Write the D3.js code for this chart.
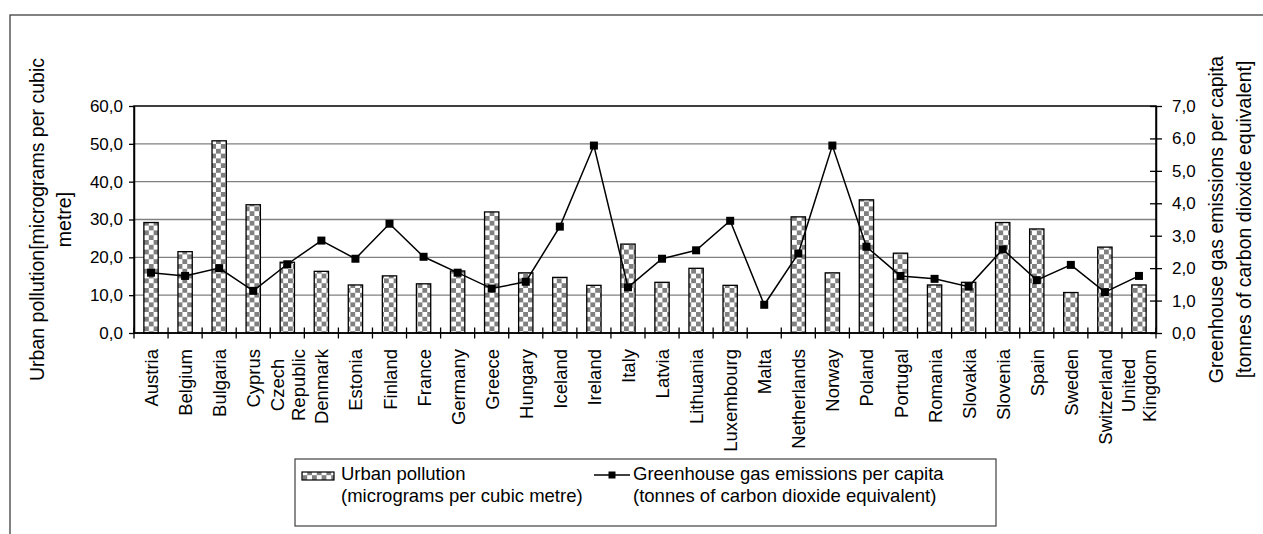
<!DOCTYPE html>
<html>
<head>
<meta charset="utf-8">
<script src="https://cdn.jsdelivr.net/npm/d3@7"></script>
<style>
  body { margin: 0; background: #fff; }
  svg { display: block; }
  text { font-family: "Liberation Sans", Arial, sans-serif; fill: #000; }
</style>
</head>
<body>
<svg id="chart" width="1263" height="534"></svg>
<script>
// Countries (a "\n" splits a label over two lines)
const countries = [
  "Austria", "Belgium", "Bulgaria", "Cyprus", "Czech\nRepublic", "Denmark",
  "Estonia", "Finland", "France", "Germany", "Greece", "Hungary", "Iceland",
  "Ireland", "Italy", "Latvia", "Lithuania", "Luxembourg", "Malta",
  "Netherlands", "Norway", "Poland", "Portugal", "Romania", "Slovakia",
  "Slovenia", "Spain", "Sweden", "Switzerland", "United\nKingdom"
];

// Urban pollution, micrograms per cubic metre (no value for Malta)
const urbanPollution = [
  29.2, 21.5, 50.8, 33.9, 18.7, 16.3,
  12.7, 15.1, 13.0, 16.4, 32.0, 15.9, 14.7,
  12.6, 23.5, 13.4, 17.1, 12.6, null,
  30.7, 15.9, 35.2, 21.1, 12.7, 13.4,
  29.2, 27.5, 10.7, 22.7, 12.7
];

// Greenhouse gas emissions per capita, tonnes of CO2 equivalent
const ghgPerCapita = [
  1.86, 1.76, 2.00, 1.30, 2.12, 2.85,
  2.29, 3.37, 2.35, 1.86, 1.37, 1.58, 3.28,
  5.78, 1.41, 2.29, 2.55, 3.46, 0.87,
  2.45, 5.78, 2.66, 1.76, 1.67, 1.43,
  2.58, 1.63, 2.10, 1.26, 1.76
];

const leftTicks = [0, 10, 20, 30, 40, 50, 60];
const rightTicks = [0, 1, 2, 3, 4, 5, 6, 7];

const leftTitle = ["Urban pollution[micrograms per cubic", "metre]"];
const rightTitle = ["Greenhouse gas emissions per capita", "[tonnes of carbon dioxide equivalent]"];
const legendBarText = ["Urban pollution", "(micrograms per cubic metre)"];
const legendLineText = ["Greenhouse gas emissions per capita", "(tonnes of carbon dioxide equivalent)"];

// ---- layout ----
const plot = { left: 134, right: 1156, top: 106, bottom: 333 };
const svg = d3.select("#chart");

const x = d3.scaleBand().domain(d3.range(countries.length))
  .range([plot.left, plot.right]).padding(0);
const yLeft = d3.scaleLinear().domain([0, 60]).range([plot.bottom, plot.top]);
const yRight = d3.scaleLinear().domain([0, 7]).range([plot.bottom, plot.top]);

const comma = d3.formatLocale({ decimal: ",", thousands: ".", grouping: [3], currency: ["", ""] }).format(".1f");

// checkerboard fill used by the bars
const cell = 4.8;
const defs = svg.append("defs");
const pat = defs.append("pattern").attr("id", "checker")
  .attr("patternUnits", "userSpaceOnUse")
  .attr("width", cell * 2).attr("height", cell * 2);
pat.append("rect").attr("width", cell * 2).attr("height", cell * 2).attr("fill", "#fff");
pat.append("rect").attr("width", cell).attr("height", cell).attr("fill", "#808080");
pat.append("rect").attr("x", cell).attr("y", cell).attr("width", cell).attr("height", cell).attr("fill", "#808080");

// outer frame (runs off the right and bottom edges)
svg.append("rect").attr("x", 10).attr("y", 15).attr("width", 1280).attr("height", 560)
  .attr("fill", "none").attr("stroke", "#404040").attr("stroke-width", 1.3);

// gridlines
svg.append("g").selectAll("line").data(leftTicks.filter(d => d > 0 && d < 60)).join("line")
  .attr("x1", plot.left).attr("x2", plot.right)
  .attr("y1", d => yLeft(d)).attr("y2", d => yLeft(d))
  .attr("stroke", "#808080").attr("stroke-width", 1.3);

// bars
const bw = x.bandwidth() * 0.42;
svg.append("g").selectAll("rect")
  .data(urbanPollution.map((v, i) => ({ v, i })).filter(d => d.v != null))
  .join("rect")
  .attr("x", d => x(d.i) + (x.bandwidth() - bw) / 2)
  .attr("width", bw)
  .attr("y", d => yLeft(d.v))
  .attr("height", d => yLeft(0) - yLeft(d.v))
  .attr("fill", "url(#checker)")
  .attr("stroke", "#000").attr("stroke-width", 1.3);

// plot border
svg.append("rect").attr("x", plot.left).attr("y", plot.top)
  .attr("width", plot.right - plot.left).attr("height", plot.bottom - plot.top)
  .attr("fill", "none").attr("stroke", "#000").attr("stroke-width", 1.5);

// line series
const cx = i => x(i) + x.bandwidth() / 2;
const line = d3.line().x((d, i) => cx(i)).y(d => yRight(d));
svg.append("path").datum(ghgPerCapita).attr("d", line)
  .attr("fill", "none").attr("stroke", "#000").attr("stroke-width", 1.5);
const ms = 8;
svg.append("g").selectAll("rect").data(ghgPerCapita).join("rect")
  .attr("x", (d, i) => cx(i) - ms / 2).attr("y", d => yRight(d) - ms / 2)
  .attr("width", ms).attr("height", ms).attr("fill", "#000");

// left axis
const gL = svg.append("g").attr("transform", `translate(${plot.left},0)`)
  .call(d3.axisLeft(yLeft).tickValues(leftTicks).tickFormat(comma).tickSizeInner(5).tickSizeOuter(0).tickPadding(6));
gL.select(".domain").attr("stroke", "#000").attr("stroke-width", 1.5);
gL.selectAll(".tick line").attr("stroke", "#000").attr("stroke-width", 1.3);
gL.selectAll(".tick text").attr("font-size", 17).attr("font-family", null);

// right axis (ticks cross the axis line)
const gR = svg.append("g").attr("transform", `translate(${plot.right},0)`)
  .call(d3.axisRight(yRight).tickValues(rightTicks).tickFormat(comma).tickSizeInner(6).tickSizeOuter(0).tickPadding(10));
gR.select(".domain").attr("stroke", "#000").attr("stroke-width", 1.5);
gR.selectAll(".tick line").attr("x1", -6).attr("stroke", "#000").attr("stroke-width", 1.3);
gR.selectAll(".tick text").attr("font-size", 17).attr("font-family", null);

// bottom axis: ticks at category boundaries, crossing the axis
const boundaries = d3.range(countries.length + 1).map(i => plot.left + i * x.bandwidth());
const gB = svg.append("g");
gB.append("line").attr("x1", plot.left).attr("x2", plot.right)
  .attr("y1", plot.bottom).attr("y2", plot.bottom).attr("stroke", "#000").attr("stroke-width", 1.5);
gB.selectAll("line.tk").data(boundaries).join("line").attr("class", "tk")
  .attr("x1", d => d).attr("x2", d => d)
  .attr("y1", plot.bottom - 5.5).attr("y2", plot.bottom + 5.5)
  .attr("stroke", "#000").attr("stroke-width", 1.3);

// category labels, rotated
const lineGap = 21;
const labels = svg.append("g").selectAll("g").data(countries).join("g")
  .attr("transform", (d, i) => `translate(${cx(i) + 7},349) rotate(-90)`);
labels.each(function (d) {
  const g = d3.select(this);
  const parts = d.split("\n");
  const texts = parts.map((p, k) => g.append("text")
    .attr("font-size", 18.5)
    .attr("y", (k - (parts.length - 1) / 2) * lineGap)
    .text(p));
  if (parts.length === 1) {
    texts[0].attr("text-anchor", "end");
  } else {
    const maxLen = d3.max(texts, t => t.node().getComputedTextLength());
    texts.forEach(t => t.attr("text-anchor", "middle").attr("x", -maxLen / 2));
  }
});

// axis titles
const midY = (plot.top + plot.bottom) / 2;
svg.append("g").attr("transform", `translate(0,${midY})`).selectAll("text").data(leftTitle).join("text")
  .attr("transform", (d, i) => `translate(${44 + i * 27},0) rotate(-90)`)
  .attr("text-anchor", "middle").attr("font-size", 19.5).text(d => d);
svg.append("g").attr("transform", `translate(0,${midY})`).selectAll("text").data(rightTitle).join("text")
  .attr("transform", (d, i) => `translate(${1223 + i * 28},0) rotate(-90)`)
  .attr("text-anchor", "middle").attr("font-size", 19.5).text(d => d);

// legend
const lg = svg.append("g");
lg.append("rect").attr("x", 295).attr("y", 459).attr("width", 701).attr("height", 67)
  .attr("fill", "#fff").attr("stroke", "#404040").attr("stroke-width", 1.2);
lg.append("rect").attr("x", 302).attr("y", 472).attr("width", 32).attr("height", 8)
  .attr("fill", "url(#checker)").attr("stroke", "#000").attr("stroke-width", 1.2);
lg.selectAll("text.b").data(legendBarText).join("text").attr("class", "b")
  .attr("x", 341).attr("y", (d, i) => 480 + i * 22).attr("font-size", 18.5).text(d => d);
lg.append("line").attr("x1", 594).attr("x2", 630).attr("y1", 475).attr("y2", 475)
  .attr("stroke", "#000").attr("stroke-width", 1.5);
lg.append("rect").attr("x", 612 - 3.5).attr("y", 475 - 3.5).attr("width", 7).attr("height", 7).attr("fill", "#000");
lg.selectAll("text.l").data(legendLineText).join("text").attr("class", "l")
  .attr("x", 633).attr("y", (d, i) => 480 + i * 22).attr("font-size", 18.5).text(d => d);
</script>
</body>
</html>
